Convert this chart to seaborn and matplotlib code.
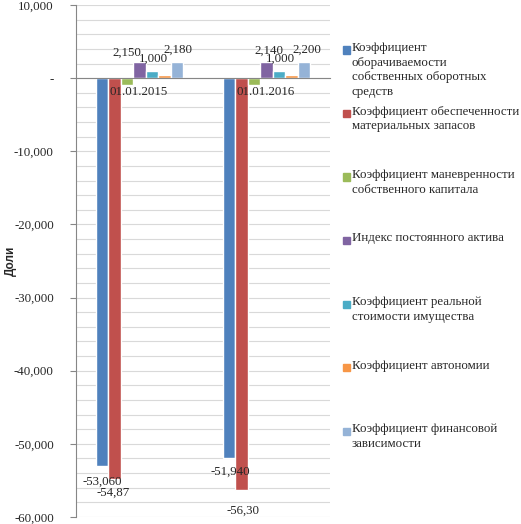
import numpy as np
import pandas as pd
import matplotlib
matplotlib.use("Agg")
import matplotlib.pyplot as plt
import matplotlib.ticker as mticker
from matplotlib.patches import Rectangle
import seaborn as sns

# data
dates = ["01.01.2015", "01.01.2016"]
series = [
    "Коэффициент\nоборачиваемости\nсобственных оборотных\nсредств",
    "Коэффициент обеспеченности\nматериальных запасов",
    "Коэффициент маневренности\nсобственного капитала",
    "Индекс постоянного актива",
    "Коэффициент реальной\nстоимости имущества",
    "Коэффициент автономии",
    "Коэффициент финансовой\nзависимости",
]
vals_2015 = [-53.06, -54.87, -1.0, 2.15, 1.0, 0.46, 2.18]
vals_2016 = [-51.94, -56.30, -1.0, 2.14, 1.0, 0.45, 2.20]
labels_2015 = ["-53,060", "-54,87", "", "2,150", "1,000", "", "2,180"]
labels_2016 = ["-51,940", "-56,30", "", "2,140", "1,000", "", "2,200"]
colors = ["#4F81BD", "#C0504D", "#9BBB59", "#8064A2", "#4BACC6", "#F79646", "#95B3D7"]

df = pd.DataFrame({
    "Дата": dates * len(series),
    "Показатель": [s for s in series for _ in dates],
    "Значение": [v for pair in zip(vals_2015, vals_2016) for v in pair],
})

sns.set_style("white")
plt.rcParams["font.family"] = ["Liberation Serif", "DejaVu Serif"]
FS = 9.3

fig = plt.figure(figsize=(5.21, 5.24), dpi=100)
W, H = 521, 524
ax = fig.add_axes([76 / W, 1 - 517 / H, (330 - 76) / W, (517 - 5) / H])

sns.barplot(data=df, x="Дата", y="Значение", hue="Показатель", order=dates,
            hue_order=series, palette=colors, width=0.69, gap=0,
            saturation=1, legend=False, ax=ax)

ax.set_ylim(-60, 10)
ax.set_xlim(-0.5, 1.5)
ax.yaxis.set_major_locator(mticker.MultipleLocator(10))
ax.yaxis.set_minor_locator(mticker.MultipleLocator(2))
ax.yaxis.set_major_formatter(mticker.FuncFormatter(
    lambda v, p: "-" if abs(v) < 1e-9 else f"{v:,.3f}".replace(".", ",")))
ax.grid(axis="y", which="both", color="#D9D9D9", lw=0.8, zorder=0)
ax.set_axisbelow(True)
ax.tick_params(axis="y", which="major", length=4, color="#868686", pad=12,
               labelsize=FS, direction="out", left=True, labelcolor="#262626")
ax.tick_params(axis="y", which="minor", length=0)
ax.tick_params(axis="x", length=0, labelbottom=False)

for s in ["top", "right"]:
    ax.spines[s].set_visible(False)
ax.spines["left"].set_color("#868686")
ax.spines["bottom"].set_position(("data", 0))
ax.spines["bottom"].set_color("#868686")
ax.set_xlabel("")
ax.set_ylabel("Доли", family="Liberation Sans", fontweight="bold", fontsize=8.5)
ax.yaxis.set_label_coords(-59 / (330 - 76), 0.5)

# category labels sit on the zero line, drawn over the bars
for i, d in enumerate(dates):
    ax.annotate(d, (i, 0), xytext=(-1, -14), textcoords="offset pixels",
                ha="center", va="center", fontsize=FS, color="#262626", zorder=6)

# data labels, offsets in pixels to mimic the manual placement
offsets = {0: (0, -15), 1: (-1, -13), 3: (-13, 10), 4: (1, 12), 6: (1, 12)}
offsets_2016 = {0: (1, -14), 1: (2, -21), 3: (2, 12), 4: (1, 12), 6: (3, 12)}
for i, cont in enumerate(ax.containers):
    for j, bar in enumerate(cont):
        txt = (labels_2015 if j == 0 else labels_2016)[i]
        if not txt:
            continue
        dx, dy = (offsets if j == 0 else offsets_2016)[i]
        x = bar.get_x() + bar.get_width() / 2
        y = bar.get_height()
        ax.annotate(txt, (x, y), xytext=(dx, dy), textcoords="offset pixels",
                    ha="center", va="center", fontsize=FS, color="#262626", zorder=6)

# legend drawn on the right side
for k, (name, col) in enumerate(zip(series, colors)):
    y = 50 + k * 63.5
    fig.patches.append(Rectangle((343 / W, 1 - (y + 3.5) / H), 7 / W, 7 / H,
                                 transform=fig.transFigure, color=col))
    fig.text(352 / W, 1 - (y - 8) / H, name, fontsize=FS, va="top", ha="left",
             linespacing=1.3, color="#262626")

fig.savefig("out.png", dpi=100)
